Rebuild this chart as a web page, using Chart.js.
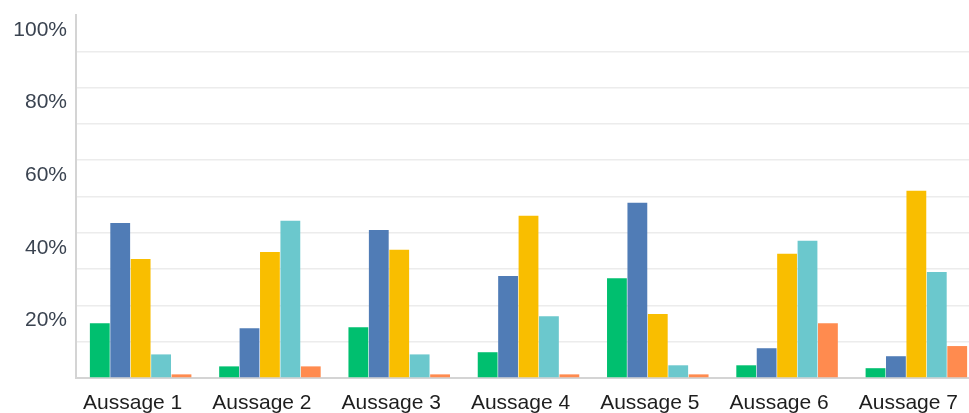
<!DOCTYPE html>
<html>
<head>
<meta charset="utf-8">
<script src="https://cdn.jsdelivr.net/npm/chart.js@4"></script>
<style>
  body { margin: 0; overflow: hidden; background: #fff; }
  #wrap { width: 981px; height: 413px; position: relative; }
</style>
</head>
<body>
<div id="wrap"><canvas id="grafico"></canvas></div>
<script>
// Kategorien und Werte (in %)
const aussagen = ['Aussage 1', 'Aussage 2', 'Aussage 3', 'Aussage 4', 'Aussage 5', 'Aussage 6', 'Aussage 7'];
const serieGruen  = [15.1, 3.2, 14.0, 7.1, 27.5, 3.5, 2.7];
const serieBlau   = [42.7, 13.7, 40.8, 28.1, 48.3, 8.2, 6.0];
const serieGelb   = [32.8, 34.7, 35.3, 44.7, 17.6, 34.2, 51.6];
const serieTuerkis = [6.5, 43.3, 6.5, 17.0, 3.5, 37.8, 29.2];
const serieOrange = [1.0, 3.2, 1.0, 1.0, 1.0, 15.1, 8.8];
const yTicks = [20, 40, 60, 80, 100];

document.addEventListener('DOMContentLoaded', function() {
    const ctx = document.getElementById('grafico').getContext('2d');
    const mk = (label, data, color) => ({
        label: label,
        data: data,
        backgroundColor: color,
        borderWidth: 0,
        categoryPercentage: 0.79,
        barPercentage: 0.97
    });
    new Chart(ctx, {
        type: 'bar',
        data: {
            labels: aussagen,
            datasets: [
                mk('Serie 1', serieGruen, '#00bf6f'),
                mk('Serie 2', serieBlau, '#507cb6'),
                mk('Serie 3', serieGelb, '#f9be00'),
                mk('Serie 4', serieTuerkis, '#6bc8cd'),
                mk('Serie 5', serieOrange, '#ff8b4f')
            ]
        },
        options: {
            responsive: true,
            maintainAspectRatio: false,
            animation: false,
            layout: { padding: { top: 15, left: 0, right: 0, bottom: 0 } },
            plugins: { legend: { display: false }, tooltip: { enabled: false } },
            scales: {
                x: {
                    grid: { display: false },
                    border: { display: true, color: '#d4d4d4', width: 2 },
                    ticks: {
                        color: '#1e1e1e',
                        font: { family: 'Liberation Sans, Arial', size: 21 },
                        padding: 5,
                        labelOffset: -8,
                        maxRotation: 0
                    },
                    afterFit: s => { s.height = 35; }
                },
                y: {
                    min: 0,
                    max: 100,
                    grid: {
                        color: c => c.tick && c.tick.value === 100 ? 'rgba(0,0,0,0)' : '#ececec',
                        lineWidth: 1.5,
                        drawTicks: false
                    },
                    border: { display: true, color: '#d4d4d4', width: 2 },
                    ticks: {
                        stepSize: 10,
                        padding: 9,
                        labelOffset: 15,
                        color: '#3a4350',
                        font: { family: 'Liberation Sans, Arial', size: 21 },
                        callback: v => yTicks.includes(v) ? v + '%' : ''
                    },
                    afterFit: s => { s.width = 76; s.paddingTop = 0; s.paddingBottom = 0; }
                }
            }
        }
    });
});
</script>
</body>
</html>
